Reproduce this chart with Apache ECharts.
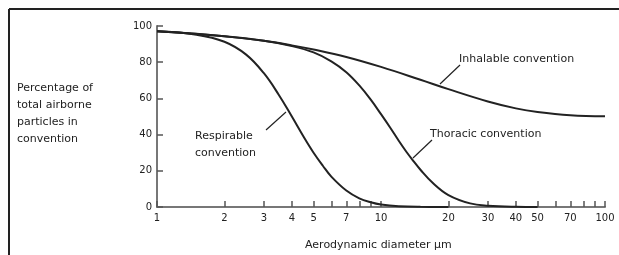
<!DOCTYPE html>
<html>
<head>
<meta charset="utf-8">
<script src="https://cdn.jsdelivr.net/npm/echarts@6/dist/echarts.min.js"></script>
<style>
  html, body { margin: 0; padding: 0; background: #fff; }
  #chart { width: 619px; height: 255px; }
</style>
</head>
<body>
<div id="chart"></div>
<script>
// aerodynamic diameter (µm) and % of airborne particles
const inhalableD = [1, 1.5, 2, 3, 4, 5, 7, 10, 15, 20, 30, 40, 50, 70, 100];
const inhalable = [97.1, 95.7, 94.3, 91.8, 89.3, 87.0, 82.9, 77.4, 70.3, 65.1, 58.3, 54.5, 52.5, 50.7, 50.1];

const thoracicD = [1, 2, 3, 4, 5, 6, 7, 8, 9, 10, 11, 12, 13, 14, 15, 17, 20, 25, 30, 40, 50];
const thoracic = [97.1, 94.3, 91.8, 88.9, 85.4, 80.5, 74.5, 67.2, 59.3, 51.3, 43.8, 36.6, 30.4, 25.2, 20.6, 13.4, 6.6, 2.0, 0.7, 0.1, 0];

const respirableD = [1, 1.5, 2, 2.5, 3, 3.5, 4, 4.5, 5, 5.5, 6, 7, 8, 9, 10, 12, 15, 20];
const respirable = [97.1, 95.2, 91.3, 84.2, 73.9, 61.9, 50.0, 39.1, 30.0, 22.8, 16.8, 9.1, 4.8, 2.6, 1.35, 0.4, 0.07, 0];

const xTicks = [1, 2, 3, 4, 5, 6, 7, 8, 9, 10, 20, 30, 40, 50, 60, 70, 80, 90, 100];
const xLabels = [1, 2, 3, 4, 5, 7, 10, 20, 30, 40, 50, 70, 100];

(function () {
    let chart = echarts.init(document.querySelector("#chart"));
    const ink = "#222";
    const font = "DejaVu Sans";

    function pairs(xs, ys) {
        return xs.map((x, i) => [x, ys[i]]);
    }

    function curve(name, xs, ys) {
        return {
            name: name,
            type: "line",
            data: pairs(xs, ys),
            smooth: 0.4,
            symbol: "none",
            lineStyle: { color: ink, width: 2 },
            z: 3
        };
    }

    function text(x, y, str) {
        return {
            type: "text",
            left: x,
            top: y,
            style: { text: str, font: "11px " + font, fill: ink, lineHeight: 17 }
        };
    }

    function leader(x1, y1, x2, y2) {
        return {
            type: "line",
            shape: { x1: x1, y1: y1, x2: x2, y2: y2 },
            style: { stroke: ink, lineWidth: 1.2 }
        };
    }

    let option = {
        animation: false,
        grid: { left: 157, right: 14, top: 26, bottom: 48, containLabel: false },
        xAxis: {
            type: "log",
            logBase: 10,
            min: 1,
            max: 100,
            axisLine: { lineStyle: { color: "#777", width: 2 } },
            axisTick: {
                inside: true,
                length: 6,
                customValues: xTicks,
                lineStyle: { color: "#555", width: 1.5 }
            },
            axisLabel: {
                customValues: xLabels,
                color: ink,
                fontFamily: font,
                fontSize: 10,
                margin: 6
            },
            splitLine: { show: false },
            minorTick: { show: false }
        },
        yAxis: {
            type: "value",
            min: 0,
            max: 100,
            interval: 20,
            axisLine: { show: true, lineStyle: { color: "#777", width: 2 } },
            axisTick: { show: true, inside: true, length: 6, lineStyle: { color: "#555", width: 1.5 } },
            axisLabel: { color: ink, fontFamily: font, fontSize: 10, margin: 5 },
            splitLine: { show: false }
        },
        series: [
            curve("Inhalable", inhalableD, inhalable),
            curve("Thoracic", thoracicD, thoracic),
            curve("Respirable", respirableD, respirable)
        ],
        graphic: [
            // frame
            { type: "line", shape: { x1: 9, y1: 9, x2: 619, y2: 9 }, style: { stroke: ink, lineWidth: 2 } },
            { type: "line", shape: { x1: 9, y1: 9, x2: 9, y2: 255 }, style: { stroke: ink, lineWidth: 2 } },
            text(17, 80, "Percentage of\ntotal airborne\nparticles in\nconvention"),
            text(459, 51, "Inhalable convention"),
            text(430, 126, "Thoracic convention"),
            text(195, 128, "Respirable\nconvention"),
            text(305, 237, "Aerodynamic diameter µm"),
            leader(440, 84, 460, 65),
            leader(413, 158, 432, 140),
            leader(286, 112, 266, 130)
        ]
    };

    chart.setOption(option);
    window.addEventListener('resize', () => chart.resize());
})();
</script>
</body>
</html>
